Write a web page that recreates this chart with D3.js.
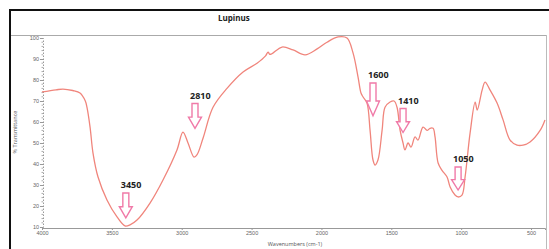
<!DOCTYPE html>
<html>
<head>
<meta charset="utf-8">
<script src="https://cdn.jsdelivr.net/npm/d3@7"></script>
<style>
  body { margin: 0; background: #fff; }
  svg { display: block; font-family: "Open Sans", "DejaVu Sans", sans-serif; }
</style>
</head>
<body>
<div id="chart"></div>
<script>
// spectrum (cm-1, % transmittance)
const wavenumbers = [4000, 3900, 3850, 3780, 3728, 3690, 3678, 3656, 3635, 3599, 3535, 3463, 3406, 3370, 3320,
  3227, 3134, 3034, 2991, 2955, 2912, 2890, 2847, 2776, 2676, 2561, 2461, 2400, 2382, 2370, 2354, 2282,
  2203, 2117, 2031, 1960, 1881, 1817, 1774, 1738, 1717, 1702, 1674, 1652, 1631, 1616, 1595, 1566, 1545,
  1509, 1480, 1459, 1437, 1416, 1402, 1380, 1359, 1330, 1309, 1273, 1244, 1223, 1201, 1187, 1165, 1137,
  1101, 1079, 1044, 1022, 994, 972, 936, 900, 885, 850, 829, 793, 743, 700, 650, 600, 557, 507, 435, 400];
const transmittance = [74.3, 75.3, 75.7, 75, 73.8, 70, 67, 57.6, 45.2, 33.8, 22.9, 14.8, 10.5, 11, 13.3,
  21.4, 32.4, 46.7, 55.2, 50, 43.3, 44.5, 52.4, 67, 76, 83.8, 88, 91.5, 93.3, 92.2, 92.5, 95.7,
  94.3, 92, 94.8, 98, 100.5, 100, 92.9, 81.4, 73.8, 71.9, 69, 56, 41.9, 39.5, 42, 56, 67,
  69.5, 70, 67, 56, 50, 46.7, 50, 48, 52.9, 51.4, 57.6, 56, 57, 57, 52.9, 40.5, 37,
  33.8, 29, 25.2, 24.3, 25.2, 33.8, 54.8, 69.5, 65.7, 75.2, 79, 75.2, 69, 61, 51.4, 49, 49, 50.5, 56, 61];

// annotated bands
const peakLabels = ["3450", "2810", "1600", "1410", "1050"];
const arrowWn = [3400, 2905, 1631, 1416, 1022];
const arrowTip = [14.3, 57, 63, 55, 27.6];
const arrowTop = [26.2, 68.8, 78.6, 66.4, 38.6];

const xTicks = [4000, 3500, 3000, 2500, 2000, 1500, 1000, 500];
const yTicks = [10, 20, 30, 40, 50, 60, 70, 80, 90, 100];

const W = 549, H = 249;
const svg = d3.select("#chart").append("svg")
  .attr("width", W)
  .attr("height", H);

const x = d3.scaleLinear().domain([4000, 400]).range([42, 545]);
const y = d3.scaleLinear().domain([10, 100]).range([227, 38]);

// frame
svg.append("path")
  .attr("d", "M10,249V10H549")
  .attr("fill", "none")
  .attr("stroke", "#111")
  .attr("stroke-width", 2);
svg.append("line")
  .attr("x1", 11).attr("x2", 546).attr("y1", 35.5).attr("y2", 35.5)
  .attr("stroke", "#aaa");
svg.append("line")
  .attr("x1", 546.5).attr("x2", 546.5).attr("y1", 35).attr("y2", 249)
  .attr("stroke", "#bbb");

svg.append("text")
  .attr("x", 218).attr("y", 21)
  .attr("font-size", 8).attr("font-weight", "bold")
  .attr("fill", "#222")
  .text("Lupinus");

// axes
const xAxis = svg.append("g")
  .attr("transform", "translate(0,228)")
  .call(d3.axisBottom(x).tickValues(xTicks).tickFormat(d3.format("d")).tickSize(2).tickPadding(1));
xAxis.select(".domain").attr("stroke", "#999");
xAxis.selectAll(".tick line").attr("stroke", "#999");
xAxis.selectAll("text").attr("font-size", 5.5).attr("fill", "#666");

const yAxis = svg.append("g")
  .attr("transform", "translate(43,0)")
  .call(d3.axisLeft(y).tickValues(yTicks).tickSize(3).tickPadding(1));
yAxis.select(".domain").attr("stroke", "#999").attr("stroke-dasharray", "1.5,1.5");
yAxis.selectAll(".tick line").attr("stroke", "#999");
yAxis.selectAll("text").attr("font-size", 5.5).attr("fill", "#666");

// minor ticks on y
svg.append("g")
  .selectAll("line")
  .data(d3.range(10, 101, 2).filter(v => v % 10 !== 0))
  .join("line")
  .attr("x1", 41.5).attr("x2", 43)
  .attr("y1", d => y(d)).attr("y2", d => y(d))
  .attr("stroke", "#aaa");

svg.append("text")
  .attr("x", 295).attr("y", 246)
  .attr("text-anchor", "middle")
  .attr("font-size", 5.5).attr("fill", "#555")
  .text("Wavenumbers (cm-1)");
svg.append("text")
  .attr("transform", "translate(17,132) rotate(-90)")
  .attr("text-anchor", "middle")
  .attr("font-size", 5.5).attr("fill", "#555")
  .text("% Transmittance");

// spectrum
const line = d3.line()
  .x(d => x(d[0]))
  .y(d => y(d[1]))
  .curve(d3.curveCatmullRom.alpha(0.5));

svg.append("path")
  .datum(d3.zip(wavenumbers, transmittance))
  .attr("fill", "none")
  .attr("stroke", "#f0857c")
  .attr("stroke-width", 1.3)
  .attr("d", line);

// arrows
const arrowPath = (cx, top, tip) => {
  const h = tip - top, neck = top + h * 0.55;
  return `M${cx - 3},${top}H${cx + 3}V${neck}H${cx + 6.5}L${cx},${tip}L${cx - 6.5},${neck}H${cx - 3}Z`;
};

const ann = svg.append("g")
  .selectAll("g")
  .data(peakLabels.map((label, i) => ({ label, wn: arrowWn[i], tip: arrowTip[i], top: arrowTop[i] })))
  .join("g");

ann.append("path")
  .attr("d", d => arrowPath(x(d.wn), y(d.top), y(d.tip)))
  .attr("fill", "#fff")
  .attr("stroke", "#f07aa8")
  .attr("stroke-width", 1.4);

ann.append("text")
  .attr("x", d => x(d.wn) - 5)
  .attr("y", d => y(d.top) - 5)
  .attr("font-size", 9).attr("font-weight", "bold")
  .attr("fill", "#222")
  .text(d => d.label);
</script>
</body>
</html>
